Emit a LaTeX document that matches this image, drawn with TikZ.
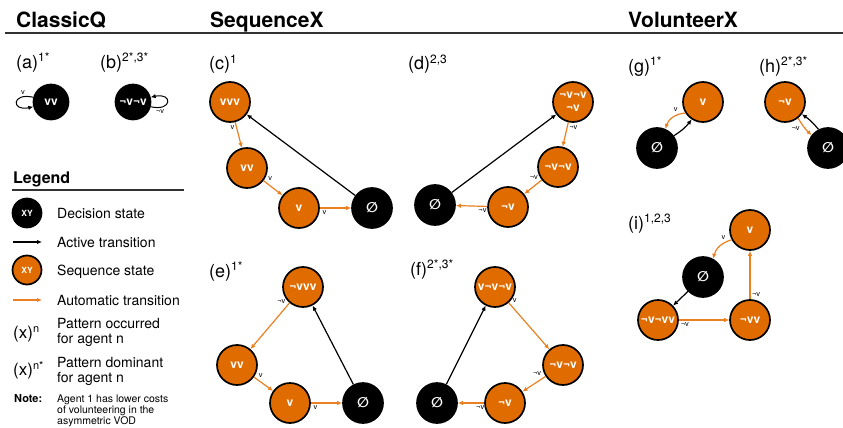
\documentclass[tikz,border=0pt]{standalone}
\usepackage{fontspec}
\setmainfont{TeX Gyre Heros}
\newfontfamily\symf{DejaVu Sans}
\usetikzlibrary{arrows.meta}
\definecolor{org}{RGB}{224,108,0}
\definecolor{orgl}{RGB}{234,128,34}
\definecolor{rulec}{RGB}{50,50,50}
\newcommand{\fs}[1]{\fontsize{#1}{#1}\selectfont}
\newcommand{\supr}[1]{\raisebox{6.5pt}{\fs{12}#1}}
\newcommand{\es}{{\symf\bfseries\fs{14}∅}}
\tikzset{
  x=1pt, y=-1pt,
  title/.style={font=\bfseries\fs{21}, inner sep=0pt, anchor=base west},
  lab/.style={font=\fs{18}, inner sep=0pt, anchor=base west},
  lt/.style={font=\fs{14}, inner sep=0pt, anchor=base west},
  ltm/.style={font=\fontsize{14}{15}\selectfont, inner sep=0pt, anchor=north west, align=left},
  decs/.style={circle, fill=black, draw=black, line width=1.7pt, minimum size=40pt, inner sep=0pt, text=white, font=\bfseries\fs{12}},
  seqs/.style={circle, fill=org, draw=black, line width=1.7pt, minimum size=40pt, inner sep=0pt, text=white, font=\bfseries\fs{12}},
  act/.style={-{Latex[length=5pt,width=4.5pt]}, line width=1.2pt, black},
  aut/.style={-{Latex[length=5pt,width=4.5pt]}, line width=1.2pt, orgl},
  el/.style={font=\fs{7.5}, inner sep=1.5pt, text=black},
  rul/.style={line width=1.1pt, rulec}
}
\begin{document}
\begin{tikzpicture}
\useasboundingbox (0,0) rectangle (843,428);
% titles
\node[title] (tc) at (16,28) {ClassicQ};
\node[title] (ts) at (210,28) {SequenceX};
\node[title] (tv) at (628,28) {VolunteerX};
\coordinate (r1) at (5,33);
\coordinate (r2) at (843,33);
\draw[rul] (r1) -- (r2);

% (a)
\node[lab] (la) at (16,68) {(a)\supr{1*}};
\node[decs, minimum size=35pt] (a) at (51,102) {vv};
\draw[act, line width=1pt] (a.165) .. controls +(-22,-5) and +(-22,5) .. (a.195);
\node[el] (lva) at (23,93) {v};
% (b)
\node[lab] (lb) at (100,68) {(b)\supr{2*,3*}};
\node[decs, minimum size=35pt] (b) at (133,102) {¬v¬v};
\draw[act, line width=1pt] (b.-15) .. controls +(22,5) and +(22,-5) .. (b.15);
\node[el] (lvb) at (160,112) {¬v};

% Legend
\node[font=\bfseries\fs{16}, inner sep=0pt, anchor=base west] (lg) at (13,183) {Legend};
\coordinate (g1) at (12,190);
\coordinate (g2) at (184,190);
\draw[rul] (g1) -- (g2);
\node[decs, minimum size=29pt, font=\bfseries\fs{8.5}] (ld) at (27,213) {XY};
\node[lt] (ldt) at (57,218) {Decision state};
\coordinate (la1) at (13,242);
\coordinate (la2) at (42,242);
\draw[act] (la1) -- (la2);
\node[lt] (lat) at (57,247) {Active transition};
\node[seqs, minimum size=29pt, font=\bfseries\fs{8.5}] (ls) at (27,270) {XY};
\node[lt] (lst) at (57,275) {Sequence state};
\coordinate (lb1) at (13,300);
\coordinate (lb2) at (42,300);
\draw[aut] (lb1) -- (lb2);
\node[lt] (lbt) at (57,305) {Automatic transition};
\node[font=\fs{17}, inner sep=0pt, anchor=base west] (lxn) at (13,338) {(x)\raisebox{6pt}{\fs{11}n}};
\node[ltm] (lxnt) at (57,318) {Pattern occurred\\for agent n};
\node[font=\fs{17}, inner sep=0pt, anchor=base west] (lxs) at (13,375) {(x)\raisebox{6pt}{\fs{11}n*}};
\node[ltm] (lxst) at (57,357) {Pattern dominant\\for agent n};
\node[font=\bfseries\fs{11}, inner sep=0pt, anchor=base west] (ln) at (14,402) {Note:};
\node[font=\fontsize{10.5}{9.7}\selectfont, inner sep=0pt, anchor=north west, align=left] (lnt) at (57,394.5) {Agent 1 has lower costs\\of volunteering in the\\asymmetric VOD};

% (c)
\node[lab] (lc) at (209,70) {(c)\supr{1}};
\node[seqs] (c1) at (230,102) {vvv};
\node[seqs] (c2) at (247,168) {vv};
\node[seqs] (c3) at (299,208) {v};
\node[decs] (c4) at (372,208) {\es};
\draw[aut] (c1) -- node[el, pos=0.2, left] {v} (c2);
\draw[aut] (c2) -- node[el, pos=0.15, above right] {v} (c3);
\draw[aut] (c3) -- node[el, pos=0.15, below] {v} (c4);
\draw[act] (c4) -- (c1);

% (d)
\node[lab] (ld2) at (408,70) {(d)\supr{2,3}};
\node[decs] (d1) at (435,205) {\es};
\node[seqs] (d2) at (508,207) {¬v};
\node[seqs] (d3) at (558,167) {¬v¬v};
\node[seqs, align=center, font=\bfseries\fontsize{12}{12.5}\selectfont] (d4) at (573,102) {¬v¬v\\¬v};
\draw[aut] (d4) -- node[el, pos=0.2, right] {¬v} (d3);
\draw[aut] (d3) -- node[el, pos=0.1, above left] {¬v} (d2);
\draw[aut] (d2) -- node[el, pos=0.15, below] {¬v} (d1);
\draw[act] (d1) -- (d4);

% (e)
\node[lab] (le) at (209,277) {(e)\supr{1*}};
\node[seqs] (e1) at (303,287) {¬vvv};
\node[seqs] (e2) at (237,365) {vv};
\node[seqs] (e3) at (290,403) {v};
\node[decs] (e4) at (363,403) {\es};
\draw[aut] (e1) -- node[el, pos=0.05, above left] {¬v} (e2);
\draw[aut] (e2) -- node[el, pos=0.15, above right] {v} (e3);
\draw[aut] (e3) -- node[el, pos=0.15, below] {v} (e4);
\draw[act] (e4) -- (e1);

% (f)
\node[lab] (lf) at (410,275) {(f)\supr{2*,3*}};
\node[seqs] (f1) at (495,287) {v¬v¬v};
\node[seqs] (f2) at (563,365) {¬v¬v};
\node[seqs] (f3) at (505,403) {¬v};
\node[decs] (f4) at (437,403) {\es};
\draw[aut] (f1) -- node[el, pos=0.05, above right] {v} (f2);
\draw[aut] (f2) -- node[el, pos=0.1, above left] {¬v} (f3);
\draw[aut] (f3) -- node[el, pos=0.15, below] {¬v} (f4);
\draw[act] (f4) -- (f1);

% (g)
\node[lab] (lg2) at (628,72) {(g)\supr{1*}};
\node[seqs] (g1n) at (703,102) {v};
\node[decs] (g2n) at (657,148) {\es};
\draw[aut] (g1n.212) to[bend right=35] node[el, pos=0.2, above left] {v} (g2n.66);
\draw[act] (g2n.36) to[bend right=10] (g1n.237);

% (h)
\node[lab] (lh) at (759,72) {(h)\supr{2*,3*}};
\node[seqs] (h1) at (785,102) {¬v};
\node[decs] (h2) at (828,148) {\es};
\draw[aut] (h1.-51) to[bend right=8] node[el, pos=0.3, below left] {¬v} (h2.142);
\draw[act] (h2.117) to[bend right=8] (h1.-36);

% (i)
\node[lab] (li) at (628,229) {(i)\supr{1,2,3}};
\node[seqs] (i1) at (750,230) {v};
\node[decs] (i2) at (703,277) {\es};
\node[seqs] (i3) at (658,320) {¬v¬vv};
\node[seqs] (i4) at (750,320) {¬vv};
\draw[aut] (i1.208) to[bend right=30] node[el, pos=0.15, above left] {v} (i2.61);
\draw[act] (i2) -- (i3);
\draw[aut] (i3) -- node[el, pos=0.12, below] {¬v} (i4);
\draw[aut] (i4) -- node[el, pos=0.1, right] {¬v} (i1);
\end{tikzpicture}
\end{document}
